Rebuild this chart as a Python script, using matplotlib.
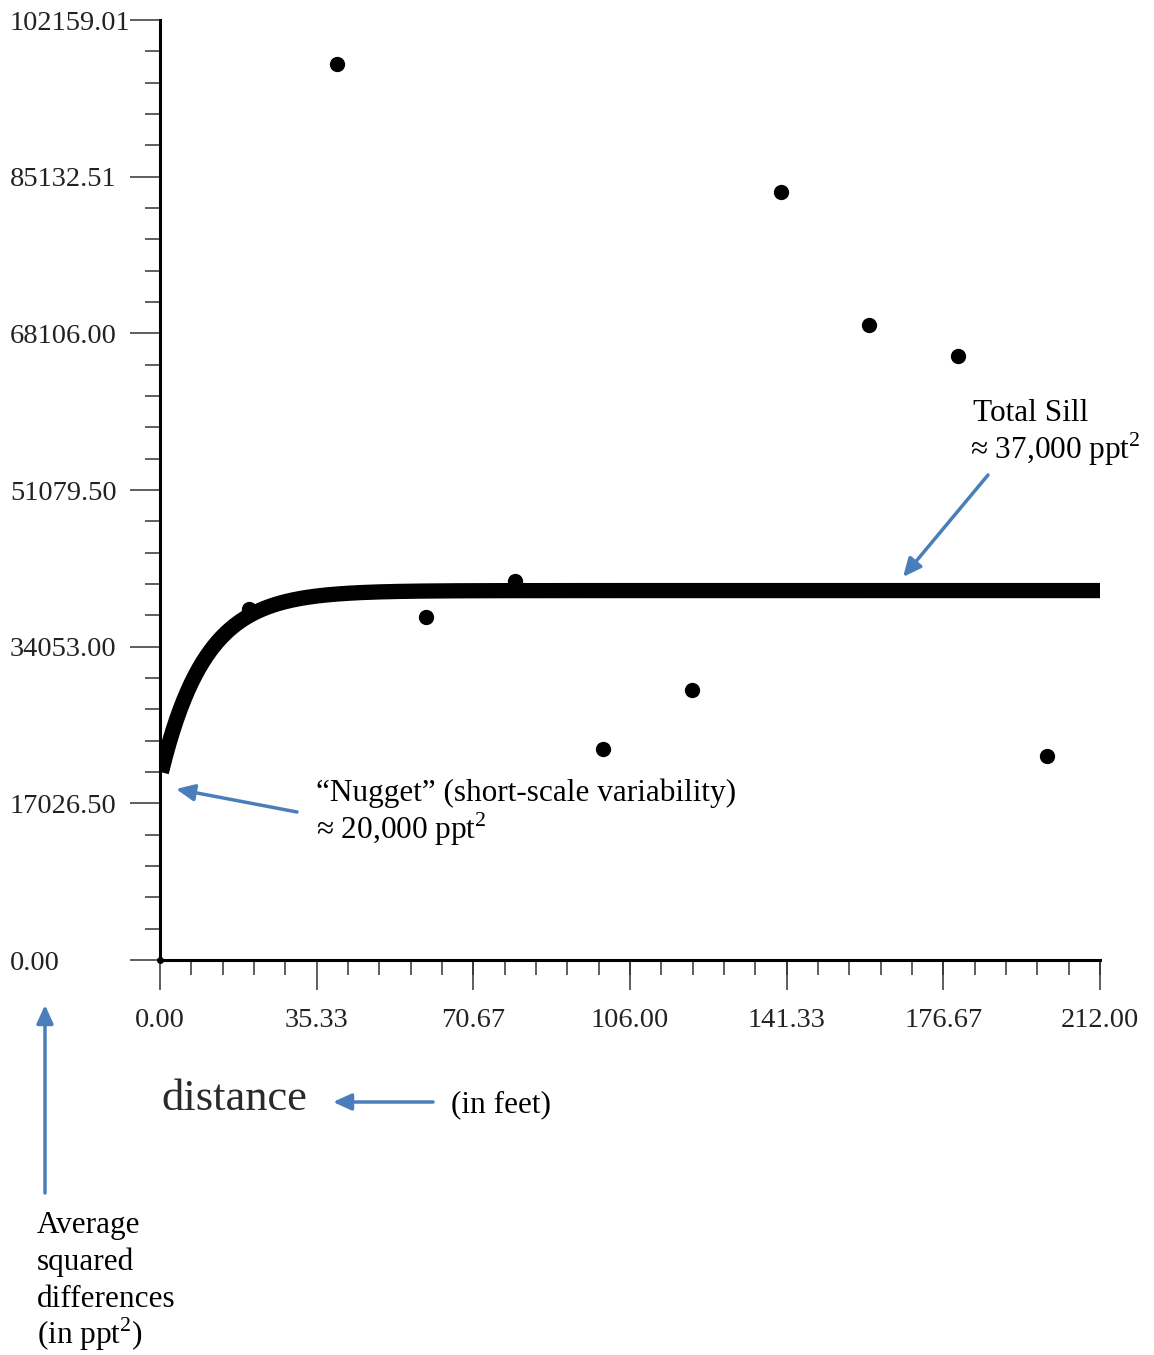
import numpy as np
import matplotlib.pyplot as plt
from matplotlib.ticker import AutoMinorLocator

plt.rcParams['font.family'] = ['Liberation Serif', 'DejaVu Serif']
plt.rcParams['mathtext.fontset'] = 'custom'
plt.rcParams['mathtext.rm'] = 'Liberation Serif'

# empirical variogram points (distance in feet, avg squared difference)
lag_dist = [20, 40, 60, 80, 100, 120, 140, 160, 180, 200]
avg_sq_diff = [38150, 97380, 37280, 41190, 22930, 29340, 83470, 69010, 65640, 22170]

# fitted exponential model
nugget = 19800
sill = 40150
eff_range = 30

x_ticks = [0.00, 35.33, 70.67, 106.00, 141.33, 176.67, 212.00]
x_labels = ['0.00', '35.33', '70.67', '106.00', '141.33', '176.67', '212.00']
y_ticks = [0.00, 17026.50, 34053.00, 51079.50, 68106.00, 85132.51, 102159.01]
y_labels = ['0.00', '17026.50', '34053.00', '51079.50', '68106.00', '85132.51', '102159.01']

W, H = 1154, 1355


def px(x, y):
    # pixel (from top-left) -> figure fraction
    return (x / W, 1 - y / H)


fig = plt.figure(figsize=(W / 100, H / 100), dpi=100)
ax = fig.add_axes([160 / W, 395 / H, 940 / W, 940 / H])

h = np.linspace(0.3, 212, 500)
model = nugget + (sill - nugget) * (1 - np.exp(-3 * h / eff_range))
ax.plot(h, model, color='black', lw=11, solid_capstyle='butt', zorder=2)
ax.plot(lag_dist, avg_sq_diff, 'o', color='black', ms=10, zorder=3)
ax.plot([0], [0], 'o', color='black', ms=4, clip_on=False, zorder=3)

ax.set_xlim(0, 212)
ax.set_ylim(0, 102159.01)
ax.set_xticks(x_ticks)
ax.set_xticklabels(x_labels)
ax.set_yticks(y_ticks)
ax.set_yticklabels(y_labels)
ax.xaxis.set_minor_locator(AutoMinorLocator(5))
ax.yaxis.set_minor_locator(AutoMinorLocator(5))

for s in ['top', 'right']:
    ax.spines[s].set_visible(False)
for s in ['left', 'bottom']:
    ax.spines[s].set_linewidth(2.2)

ax.tick_params(which='major', length=21.6, width=1.1, color='#333333',
               labelsize=20.5, labelcolor='#222222')
ax.tick_params(which='minor', length=10.8, width=1.1, color='#333333')
ax.tick_params(axis='x', which='major', pad=13)
ax.tick_params(axis='y', which='major', pad=86.4)
for lab in ax.get_yticklabels():
    lab.set_horizontalalignment('left')

# annotations
fs = 22.5
blue = '#4A7EBB'
fig.text(*px(973, 421), 'Total Sill', fontsize=fs, va='baseline')
fig.text(*px(970, 459), '≈ 37,000 ppt$^2$', fontsize=fs, va='baseline')
fig.text(*px(316, 801), '“Nugget” (short-scale variability)', fontsize=fs, va='baseline')
fig.text(*px(316, 839), '≈ 20,000 ppt$^2$', fontsize=fs, va='baseline')
fig.text(*px(161, 1110), 'distance', fontsize=32, va='baseline', color='#2a2a2a')
fig.text(*px(451, 1112), '(in feet)', fontsize=fs, va='baseline')
avg_lines = ['Average', 'squared', 'differences', '(in ppt$^2$)']
for i, t in enumerate(avg_lines):
    fig.text(*px(37, 1233 + 37 * i), t, fontsize=fs, va='baseline')

arrows = [((988, 475), (903, 577)),
          ((297, 812), (176, 789)),
          ((433, 1102), (333, 1102)),
          ((45, 1193), (45, 1005))]
for tail, head in arrows:
    ax.annotate('', xy=px(*head), xytext=px(*tail),
                xycoords='figure fraction', textcoords='figure fraction',
                arrowprops=dict(arrowstyle='-|>,head_length=1.1,head_width=0.5',
                                color=blue, lw=2.5, shrinkA=0, shrinkB=0))

fig.savefig('out.png', dpi=100)
